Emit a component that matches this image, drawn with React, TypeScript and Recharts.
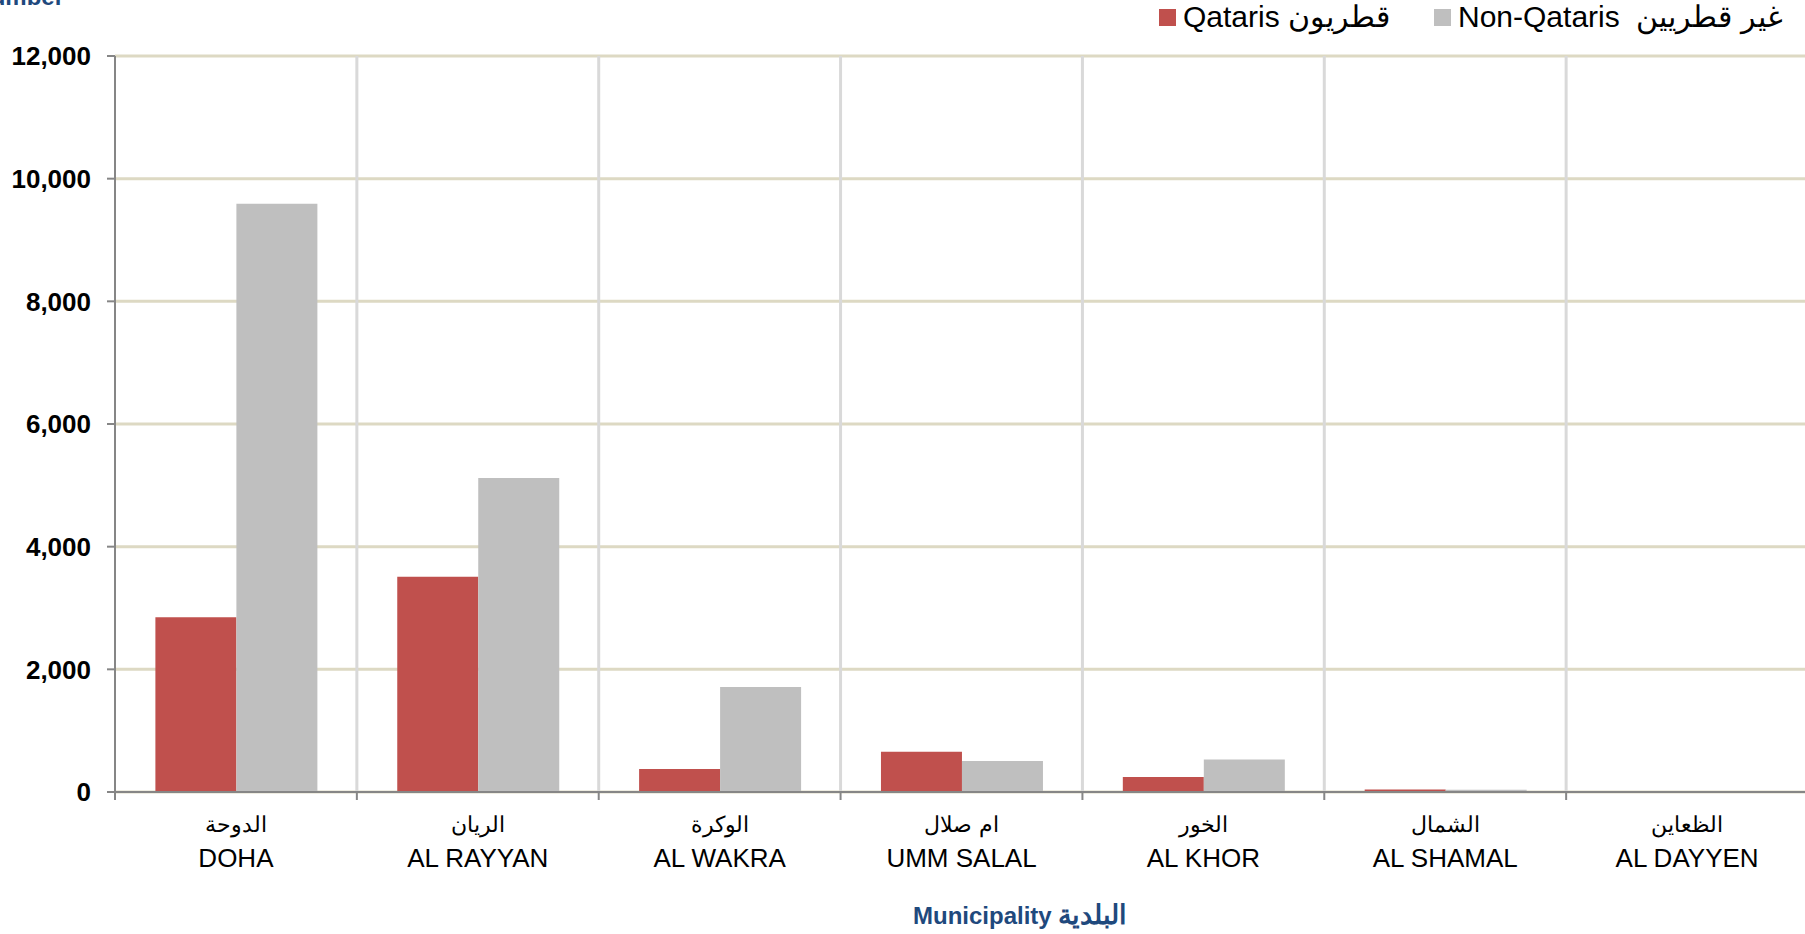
import { Bar, BarChart, CartesianGrid, XAxis, YAxis } from "recharts"

const categoriesEn = ["DOHA", "AL RAYYAN", "AL WAKRA", "UMM SALAL", "AL KHOR", "AL SHAMAL", "AL DAYYEN"]
const categoriesAr = ["الدوحة", "الريان", "الوكرة", "ام صلال", "الخور", "الشمال", "الظعاين"]
const qataris = [2850, 3510, 375, 655, 245, 40, 0]
const nonQataris = [9590, 5120, 1710, 505, 530, 35, 0]
const yTicks = [0, 2000, 4000, 6000, 8000, 10000, 12000]

const data = categoriesEn.map((en, i) => ({
  en,
  ar: categoriesAr[i],
  qataris: qataris[i],
  nonQataris: nonQataris[i],
}))

const FONT = "'Liberation Sans', Arial, sans-serif"
const CHART_W = 1808
const Y_AXIS_W = 115
const BAND = (CHART_W - Y_AXIS_W) / categoriesEn.length

const CategoryTick = (props: any) => {
  const { x, y, payload } = props
  const item = data[payload.index]
  const last = payload.index === data.length - 1
  return (
    <g transform={`translate(${x},${y})`}>
      <line x1={-BAND / 2} x2={-BAND / 2} y1={0} y2={8} stroke="#868686" strokeWidth={2} />
      {last && <line x1={BAND / 2} x2={BAND / 2} y1={0} y2={8} stroke="#868686" strokeWidth={2} />}
      <text x={0} y={40} textAnchor="middle" fontSize={22} fontFamily={FONT} fill="#000">
        {item.ar}
      </text>
      <text x={0} y={75} textAnchor="middle" fontSize={26} fontFamily={FONT} fill="#000">
        {item.en}
      </text>
    </g>
  )
}

export default function App() {
  return (
    <div style={{ position: "relative", width: 1805, height: 934, overflow: "hidden", background: "#fff" }}>
      <style>{`body{margin:0}`}</style>
      <BarChart
        width={CHART_W}
        height={934}
        data={data}
        margin={{ top: 56, right: 0, bottom: 0, left: 0 }}
        barCategoryGap="16.7%"
        barGap={0}
      >
        <CartesianGrid vertical={false} stroke="#ddd9c3" strokeWidth={3} />
        <CartesianGrid
          horizontal={false}
          stroke="#d9d9d9"
          strokeWidth={3}
          verticalCoordinatesGenerator={({ offset }: any) =>
            categoriesEn.map((_, i) => offset.left + ((i + 1) * offset.width) / categoriesEn.length)
          }
        />
        <XAxis
          dataKey="en"
          height={142}
          interval={0}
          tickLine={false}
          tickSize={0}
          tickMargin={0}
          axisLine={{ stroke: "#868686", strokeWidth: 2 }}
          tick={<CategoryTick />}
        />
        <YAxis
          width={Y_AXIS_W}
          domain={[0, 12000]}
          ticks={yTicks}
          interval={0}
          tickFormatter={(v: number) => v.toLocaleString("en-US")}
          tick={{ fontSize: 26, fontWeight: "bold", fill: "#000", fontFamily: FONT }}
          tickSize={8}
          tickMargin={16}
          tickLine={{ stroke: "#868686", strokeWidth: 2 }}
          axisLine={{ stroke: "#868686", strokeWidth: 2 }}
        />
        <Bar dataKey="qataris" fill="#c0504d" isAnimationActive={false} />
        <Bar dataKey="nonQataris" fill="#bfbfbf" isAnimationActive={false} />
      </BarChart>

      <div
        style={{
          position: "absolute",
          right: 1805 - 64,
          top: -17,
          whiteSpace: "nowrap",
          fontFamily: FONT,
          fontWeight: "bold",
          fontSize: 24,
          color: "#1f497d",
        }}
      >
        Number
      </div>

      <div style={{ position: "absolute", left: 1159, top: 9, width: 17, height: 17, background: "#c0504d" }} />
      <div
        style={{
          position: "absolute",
          left: 1183,
          top: 17,
          transform: "translateY(-50%)",
          fontFamily: FONT,
          fontSize: 30,
          lineHeight: "34px",
          color: "#000",
          whiteSpace: "nowrap",
        }}
      >
        Qataris قطريون
      </div>
      <div style={{ position: "absolute", left: 1434, top: 9, width: 17, height: 17, background: "#bfbfbf" }} />
      <div
        style={{
          position: "absolute",
          left: 1458,
          top: 17,
          transform: "translateY(-50%)",
          fontFamily: FONT,
          fontSize: 30,
          lineHeight: "34px",
          color: "#000",
          whiteSpace: "pre",
        }}
      >
        {"Non-Qataris  غير قطريين"}
      </div>

      <div
        style={{
          position: "absolute",
          top: 899,
          left: 913,
          fontFamily: FONT,
          fontWeight: "bold",
          fontSize: 24,
          color: "#1f497d",
          whiteSpace: "nowrap",
        }}
      >
        Municipality <span style={{ fontSize: 27 }}>البلدية</span>
      </div>
    </div>
  )
}
